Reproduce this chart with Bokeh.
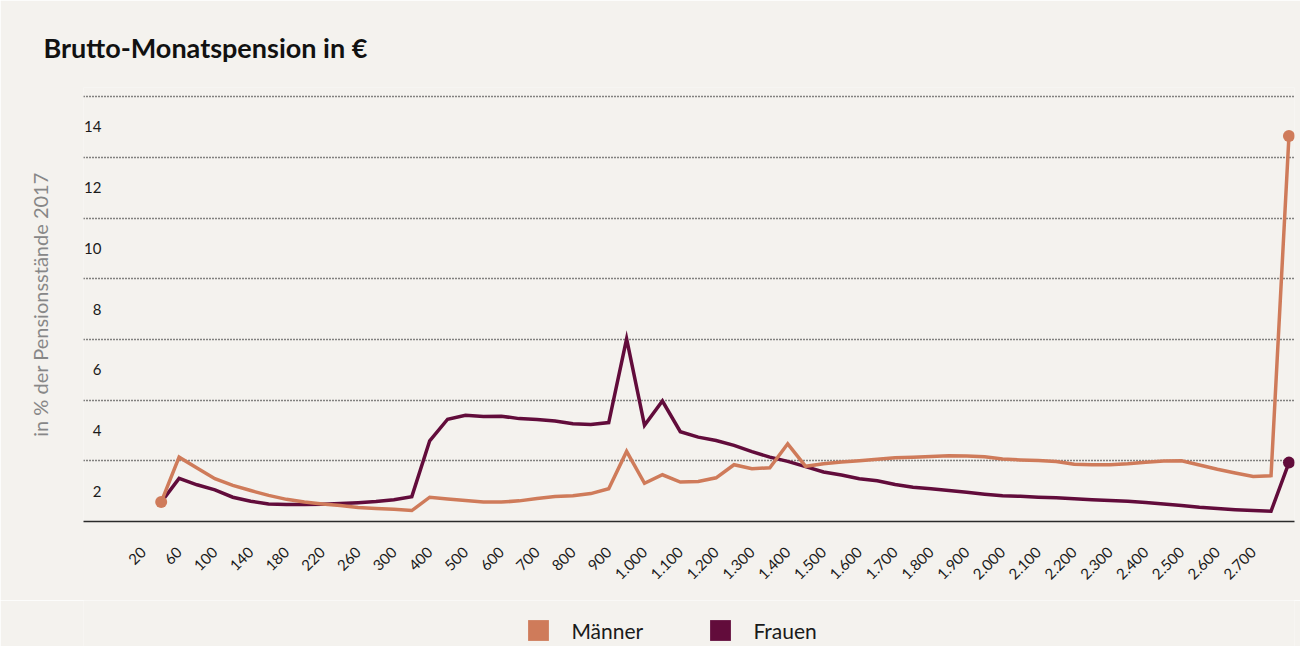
import math
from bokeh.plotting import figure
from bokeh.layouts import column
from bokeh.models import ColumnDataSource, FixedTicker, Legend, LegendItem
from bokeh.embed import file_html
from bokeh.resources import INLINE

# ---------------- data ----------------
categories = ["20", "40", "60", "80", "100", "120", "140", "160", "180", "200",
              "220", "240", "260", "280", "300", "350", "400", "450", "500", "550",
              "600", "650", "700", "750", "800", "850", "900", "950", "1.000", "1.050",
              "1.100", "1.150", "1.200", "1.250", "1.300", "1.350", "1.400", "1.450", "1.500", "1.550",
              "1.600", "1.650", "1.700", "1.750", "1.800", "1.850", "1.900", "1.950", "2.000", "2.050",
              "2.100", "2.150", "2.200", "2.250", "2.300", "2.350", "2.400", "2.450", "2.500", "2.550",
              "2.600", "2.650", "2.700", "2.750", "2.800"]

maenner = [None, 0.64, 2.12, 1.76, 1.41, 1.19, 1.02, 0.86, 0.73, 0.64,
           0.58, 0.53, 0.46, 0.43, 0.40, 0.36, 0.80, 0.74, 0.69, 0.64,
           0.64, 0.68, 0.76, 0.82, 0.85, 0.92, 1.08, 2.31, 1.26, 1.54,
           1.30, 1.32, 1.44, 1.87, 1.74, 1.77, 2.56, 1.82, 1.90, 1.96,
           2.00, 2.05, 2.10, 2.12, 2.14, 2.17, 2.16, 2.13, 2.06, 2.03,
           2.01, 1.98, 1.89, 1.87, 1.87, 1.90, 1.95, 1.99, 2.00, 1.86,
           1.72, 1.60, 1.48, 1.51, 12.70]

frauen = [None, 0.64, 1.42, 1.21, 1.04, 0.80, 0.67, 0.58, 0.56, 0.56,
          0.57, 0.59, 0.62, 0.66, 0.72, 0.82, 2.66, 3.37, 3.50, 3.46,
          3.47, 3.39, 3.36, 3.31, 3.22, 3.20, 3.26, 6.02, 3.17, 3.97,
          2.96, 2.78, 2.67, 2.51, 2.30, 2.12, 1.98, 1.81, 1.63, 1.53,
          1.41, 1.34, 1.22, 1.13, 1.08, 1.02, 0.96, 0.90, 0.85, 0.83,
          0.80, 0.78, 0.75, 0.72, 0.69, 0.67, 0.63, 0.58, 0.53, 0.47,
          0.43, 0.39, 0.36, 0.34, 1.94]

x_tick_labels = ["20", "60", "100", "140", "180", "220", "260", "300",
                 "400", "500", "600", "700", "800", "900", "1.000", "1.100",
                 "1.200", "1.300", "1.400", "1.500", "1.600", "1.700", "1.800", "1.900",
                 "2.000", "2.100", "2.200", "2.300", "2.400", "2.500", "2.600", "2.700"]

y_tick_labels = ["2", "4", "6", "8", "10", "12", "14"]

series_names = ["Männer", "Frauen"]
title_text = "Brutto-Monatspension in €"
y_axis_text = "in % der Pensionsstände 2017"

# ---------------- style ----------------
BG = "#f4f2ee"
ORANGE = "#cf7b5a"
PURPLE = "#620c3b"
INK = "#1a1a1a"
FONT = "Lato"

nan = float("nan")
xs = list(range(len(categories)))
src = ColumnDataSource(dict(
    x=xs,
    m=[nan if v is None else v for v in maenner],
    f=[nan if v is None else v for v in frauen],
))

p = figure(width=1300, height=600, output_backend="svg", toolbar_location=None,
           x_range=(-3.34, 64.31), y_range=(0, 14.3),
           min_border_left=83, min_border_right=6, min_border_top=87, min_border_bottom=79,
           background_fill_color=BG, border_fill_color=BG, outline_line_color=None)

# title
p.title.text = title_text
p.title.text_font = FONT
p.title.text_font_size = "27px"
p.title.text_font_style = "bold"
p.title.text_color = "#111111"
p.title.align = "left"
p.title.offset = -40
p.title.standoff = 47

# grids
p.xgrid.grid_line_color = None
grid_vals = [int(l) for l in y_tick_labels]
p.ygrid.ticker = FixedTicker(ticks=grid_vals)
p.ygrid.grid_line_color = "#111111"
p.ygrid.grid_line_dash = "1 2"
p.ygrid.grid_line_width = 1.6

# y axis: labels sit in the band below each grid line, inside the plot area
ytick_pos = [g - 1 for g in grid_vals]
p.yaxis.ticker = FixedTicker(ticks=ytick_pos)
p.yaxis.major_label_overrides = {pos: lab for pos, lab in zip(ytick_pos, y_tick_labels)}
p.yaxis.axis_line_color = None
p.yaxis.major_tick_line_color = None
p.yaxis.minor_tick_line_color = None
p.yaxis.major_label_standoff = -24
p.yaxis.major_label_text_font = FONT
p.yaxis.major_label_text_font_size = "15px"
p.yaxis.major_label_text_color = INK
p.yaxis.axis_label = y_axis_text
p.yaxis.axis_label_standoff = 29
p.yaxis.axis_label_text_font = FONT
p.yaxis.axis_label_text_font_size = "20px"
p.yaxis.axis_label_text_font_style = "normal"
p.yaxis.axis_label_text_color = "#878787"

# x axis
xtick_pos = [categories.index(l) for l in x_tick_labels]
p.xaxis.ticker = FixedTicker(ticks=xtick_pos)
p.xaxis.major_label_overrides = {pos: lab for pos, lab in zip(xtick_pos, x_tick_labels)}
p.xaxis.axis_line_color = "#2a2a2a"
p.xaxis.axis_line_width = 1.5
p.xaxis.major_tick_line_color = None
p.xaxis.minor_tick_line_color = None
p.xaxis.major_label_orientation = math.pi / 4
p.xaxis.major_label_standoff = 22
p.xaxis.major_label_text_font = FONT
p.xaxis.major_label_text_font_size = "15px"
p.xaxis.major_label_text_color = INK

# lines
p.line("x", "f", source=src, line_color=PURPLE, line_width=3.5, line_join="miter")
p.line("x", "m", source=src, line_color=ORANGE, line_width=3.5, line_join="miter")

# end dots
def valid_idx(vals):
    return [i for i, v in enumerate(vals) if v is not None]

fi = valid_idx(frauen)
mi = valid_idx(maenner)
p.scatter(x=[xs[fi[-1]]], y=[frauen[fi[-1]]], size=12, fill_color=PURPLE, line_color=None)
p.scatter(x=[xs[mi[0]], xs[mi[-1]]], y=[maenner[mi[0]], maenner[mi[-1]]],
          size=12, fill_color=ORANGE, line_color=None)

# legend strip (separate small figure underneath, square swatches)
lg = figure(width=1300, height=46, output_backend="svg", toolbar_location=None,
            x_axis_location=None, y_axis_location=None, x_range=(0, 1), y_range=(0, 1),
            min_border_left=83, min_border_right=6, min_border_top=0, min_border_bottom=0,
            background_fill_color=BG, border_fill_color=BG, outline_line_color=None)
lg.xgrid.grid_line_color = None
lg.ygrid.grid_line_color = None
swatch = dict(left=[nan], right=[nan], top=[nan], bottom=[nan])  # legend-only, nothing drawn
sw_m = lg.quad(source=ColumnDataSource(swatch), left="left", right="right", top="top",
               bottom="bottom", fill_color=ORANGE, line_color=None)
sw_f = lg.quad(source=ColumnDataSource(dict(swatch)), left="left", right="right", top="top",
               bottom="bottom", fill_color=PURPLE, line_color=None)
legend = Legend(items=[LegendItem(label=series_names[0], renderers=[sw_m]),
                       LegendItem(label=series_names[1], renderers=[sw_f])],
                orientation="horizontal", location=(442.4, 2.6),
                glyph_width=26, glyph_height=26, label_standoff=20,
                label_width=98, spacing=38,
                padding=0, margin=0, border_line_color=None, background_fill_alpha=0,
                label_text_font=FONT, label_text_font_size="21px", label_text_color=INK)
lg.add_layout(legend)

layout = column(p, lg, spacing=0)
open("out.html", "w").write(file_html(layout, INLINE))
